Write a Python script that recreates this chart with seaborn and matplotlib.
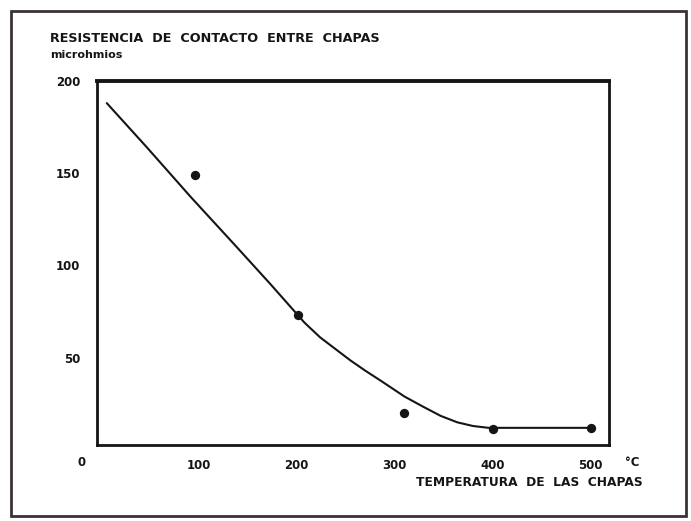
import matplotlib
matplotlib.use("Agg")
import matplotlib.pyplot as plt
import seaborn as sns
import pandas as pd
from matplotlib.patches import Rectangle

# ---- data ----
meas_temp = [96, 201, 310, 401, 501]          # measured points (°C)
meas_res = [149, 73, 20, 11.5, 12]            # microohms
curve_temp = [6, 47, 92, 137, 173, 208, 224, 255, 270, 286, 310, 329, 347, 364, 380, 396, 499]
curve_res = [188, 164, 137, 111, 90, 69, 61, 48.5, 43, 37.5, 29, 23.5, 18.5, 15, 13, 12, 12]
x_ticks = [100, 200, 300, 400, 500]
x_tick_labels = ["100", "200", "300", "400", "500"]
y_ticks = [50, 100, 150, 200]
y_tick_labels = ["50", "100", "150", "200"]

title_line1 = "RESISTENCIA  DE  CONTACTO  ENTRE  CHAPAS"
title_line2 = "microhmios"
x_label = "TEMPERATURA  DE  LAS  CHAPAS"
unit_label = "°C"

sns.set_style("white")
plt.rcParams["font.family"] = ["DejaVu Sans"]

ink = "#151515"
fig = plt.figure(figsize=(6.91, 5.21), dpi=100)
ax = fig.add_axes([97 / 691, 1 - 445 / 521, (609 - 97) / 691, (445 - 81) / 521])

curve_df = pd.DataFrame({"temp": curve_temp, "res": curve_res})
meas_df = pd.DataFrame({"temp": meas_temp, "res": meas_res})

sns.lineplot(data=curve_df, x="temp", y="res", ax=ax, color=ink, linewidth=1.5,
             sort=False, estimator=None)
sns.scatterplot(data=meas_df, x="temp", y="res", ax=ax, color=ink, s=45,
                edgecolor=ink, linewidth=0, zorder=5)

ax.set_xlim(-4, 519)
ax.set_ylim(2.7, 200)
ax.set_xticks(x_ticks)
ax.set_xticklabels(x_tick_labels)
ax.set_yticks(y_ticks)
ax.set_yticklabels(y_tick_labels)
ax.set_xlabel("")
ax.set_ylabel("")
ax.tick_params(axis="both", direction="in", length=5, width=1.6, color=ink,
               labelsize=8.5, labelcolor=ink, pad=12)
ax.tick_params(axis="x", pad=10)
for lbl in ax.get_xticklabels() + ax.get_yticklabels():
    lbl.set_fontweight("bold")

for side, lw in [("left", 2.0), ("bottom", 2.0), ("right", 2.0), ("top", 2.8)]:
    ax.spines[side].set_visible(True)
    ax.spines[side].set_color(ink)
    ax.spines[side].set_linewidth(lw)

# texts
fig.text(50 / 691, 1 - 38 / 521, title_line1, fontsize=9.2, fontweight="bold",
         color=ink, ha="left", va="center")
fig.text(50 / 691, 1 - 55 / 521, title_line2, fontsize=8, fontweight="bold",
         color=ink, ha="left", va="center")
fig.text(82 / 691, 1 - 463 / 521, "0", fontsize=8.5, fontweight="bold",
         color=ink, ha="center", va="center")
fig.text(632 / 691, 1 - 462 / 521, unit_label, fontsize=8.5, fontweight="bold",
         color=ink, ha="center", va="center")
fig.text(643 / 691, 1 - 483 / 521, x_label, fontsize=8.8, fontweight="bold",
         color=ink, ha="right", va="center")

# outer frame
fig.patches.append(Rectangle((11 / 691, 1 - 516 / 521), (686 - 11) / 691, (516 - 11) / 521,
                             transform=fig.transFigure, fill=False,
                             edgecolor="#3a3238", linewidth=2.0))

fig.savefig("out.png", dpi=100, facecolor="white")
